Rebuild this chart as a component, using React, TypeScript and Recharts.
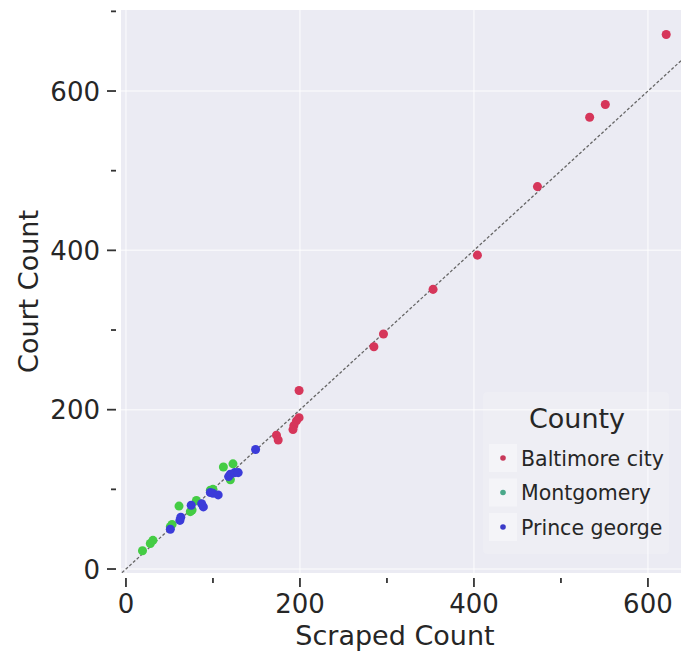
import React from 'react';
import {
  ScatterChart,
  Scatter,
  XAxis,
  YAxis,
  CartesianGrid,
  ReferenceLine,
  Legend,
} from 'recharts';

// ---- data (scraped count vs court count) ----
const BALTIMORE_CITY = [
  { x: 621, y: 671 }, { x: 551, y: 583 }, { x: 533, y: 567 }, { x: 473, y: 480 },
  { x: 404, y: 394 }, { x: 353, y: 351 }, { x: 296, y: 295 }, { x: 285, y: 279 },
  { x: 199, y: 224 }, { x: 199, y: 190 }, { x: 196, y: 186 }, { x: 193, y: 180 },
  { x: 192, y: 175 }, { x: 173, y: 168 }, { x: 175, y: 162 },
];
const MONTGOMERY = [
  { x: 19, y: 23 }, { x: 28, y: 32 }, { x: 31, y: 36 }, { x: 51, y: 53 },
  { x: 53, y: 56 }, { x: 61, y: 79 }, { x: 74, y: 72 }, { x: 76, y: 74 },
  { x: 81, y: 86 }, { x: 97, y: 99 }, { x: 100, y: 100 }, { x: 112, y: 128 },
  { x: 120, y: 112 }, { x: 123, y: 132 },
];
const PRINCE_GEORGE = [
  { x: 51, y: 50 }, { x: 62, y: 61 }, { x: 63, y: 65 }, { x: 75, y: 80 },
  { x: 87, y: 82 }, { x: 89, y: 78 }, { x: 97, y: 96 }, { x: 100, y: 95 },
  { x: 106, y: 93 }, { x: 118, y: 116 }, { x: 120, y: 119 }, { x: 125, y: 121 },
  { x: 129, y: 121 }, { x: 149, y: 150 },
];
const DIAGONAL = [{ x: -30, y: -30 }, { x: 740, y: 740 }];

const X_TICKS = [0, 100, 200, 300, 400, 500, 600];
const Y_TICKS = [0, 100, 200, 300, 400, 500, 600, 700];
const GRID_VALUES = [0, 200, 400, 600];
const X_DOMAIN: [number, number] = [-5.7, 638];
const Y_DOMAIN: [number, number] = [-5, 701.7];

const LEGEND_TITLE = 'County';
const SERIES_NAMES = ['Baltimore city', 'Montgomery', 'Prince george'];

// ---- style ----
const FONT = '"DejaVu Sans", sans-serif';
const TEXT = '#262626';
const COLORS = ['#d6365a', '#44cc44', '#3b3bd9'];
const LEGEND_MARK: Record<string, string> = {
  'Baltimore city': '#c8385a',
  Montgomery: '#4aa88a',
  'Prince george': '#3a3ac8',
};

const XTick = (props: any) => {
  const { x, y, payload } = props;
  const v = payload.value;
  const major = v % 200 === 0;
  return (
    <g>
      <line x1={x} x2={x} y1={y + 5} y2={y + (major ? 14 : 10)} stroke="#333" strokeWidth={1.8} />
      {major && (
        <text x={x} y={y + 40} textAnchor="middle" fontSize={26} fill={TEXT} fontFamily={FONT}>
          {v}
        </text>
      )}
    </g>
  );
};

const YTick = (props: any) => {
  const { x, y, payload } = props;
  const v = payload.value;
  const major = v % 200 === 0;
  return (
    <g>
      <line x1={x - (major ? 14 : 10)} x2={x - 5} y1={y} y2={y} stroke="#333" strokeWidth={1.8} />
      {major && (
        <text x={x - 21} y={y + 9.5} textAnchor="end" fontSize={26} fill={TEXT} fontFamily={FONT}>
          {v}
        </text>
      )}
    </g>
  );
};

const XLabel = (props: any) => {
  const vb = props.viewBox || { x: 121, y: 573, width: 560, height: 82 };
  return (
    <text x={vb.x + vb.width / 2 - 6} y={vb.y + 72} textAnchor="middle" fontSize={27} fill={TEXT} fontFamily={FONT}>
      Scraped Count
    </text>
  );
};

const YLabel = (props: any) => {
  const vb = props.viewBox || { x: 0, y: 10, width: 121, height: 563 };
  const cy = vb.y + vb.height / 2;
  return (
    <text
      transform={`translate(${vb.x + 38},${cy}) rotate(-90)`}
      textAnchor="middle"
      fontSize={27}
      fill={TEXT}
      fontFamily={FONT}
    >
      Court Count
    </text>
  );
};

const LegendBox = (props: any) => {
  const payload: any[] = (props.payload || []).filter((p: any) => SERIES_NAMES.includes(p.value));
  const entries = payload.length ? payload.map((p: any) => p.value) : SERIES_NAMES;
  return (
    <svg width={186} height={162} style={{ display: 'block' }}>
      <rect x={0} y={0} width={186} height={162} rx={4} fill="rgba(255,255,255,0.15)" />
      <text x={94} y={36} textAnchor="middle" fontSize={27} fill={TEXT} fontFamily={FONT}>
        {LEGEND_TITLE}
      </text>
      {entries.map((name: string, i: number) => {
        const cy = 66 + i * 34.5;
        return (
          <g key={name}>
            <rect x={6} y={cy - 14} width={28} height={28} fill="rgba(255,255,255,0.35)" />
            <circle cx={20} cy={cy} r={2.8} fill={LEGEND_MARK[name]} />
            <text x={38} y={cy + 7.5} fontSize={20.5} fill={TEXT} fontFamily={FONT}>
              {name}
            </text>
          </g>
        );
      })}
    </svg>
  );
};

export default function App() {
  return (
    <div style={{ position: 'absolute', left: 0, top: 0, width: 681, height: 655, background: '#fff' }}>
      <ScatterChart width={681} height={655} margin={{ top: 10, right: 0, bottom: 0, left: 0 }}>
        <CartesianGrid
          fill="#EBEBF3"
          stroke="#ffffff"
          strokeOpacity={0.6}
          strokeWidth={1.5}
          horizontalValues={GRID_VALUES}
          verticalValues={GRID_VALUES}
        />
        <XAxis
          type="number"
          dataKey="x"
          domain={X_DOMAIN}
          ticks={X_TICKS}
          allowDataOverflow
          height={82}
          axisLine={false}
          tickLine={false}
          tickSize={0}
          tickMargin={0}
          tick={<XTick />}
          interval={0}
          label={<XLabel />}
        />
        <YAxis
          type="number"
          dataKey="y"
          domain={Y_DOMAIN}
          ticks={Y_TICKS}
          allowDataOverflow
          width={121}
          axisLine={false}
          tickLine={false}
          tickSize={0}
          tickMargin={0}
          tick={<YTick />}
          interval={0}
          label={<YLabel />}
        />
        <Scatter name={SERIES_NAMES[0]} data={BALTIMORE_CITY} fill={COLORS[0]} isAnimationActive={false} />
        <Scatter name={SERIES_NAMES[1]} data={MONTGOMERY} fill={COLORS[1]} isAnimationActive={false} />
        <Scatter name={SERIES_NAMES[2]} data={PRINCE_GEORGE} fill={COLORS[2]} isAnimationActive={false} />
        <ReferenceLine
          segment={DIAGONAL}
          ifOverflow="hidden"
          stroke="#666"
          strokeWidth={1.3}
          strokeDasharray="3 2"
        />
        <Legend
          layout="vertical"
          align="center"
          verticalAlign="middle"
          content={<LegendBox />}
          wrapperStyle={{ left: 483, top: 392, width: 186, height: 162 }}
        />
      </ScatterChart>
    </div>
  );
}
